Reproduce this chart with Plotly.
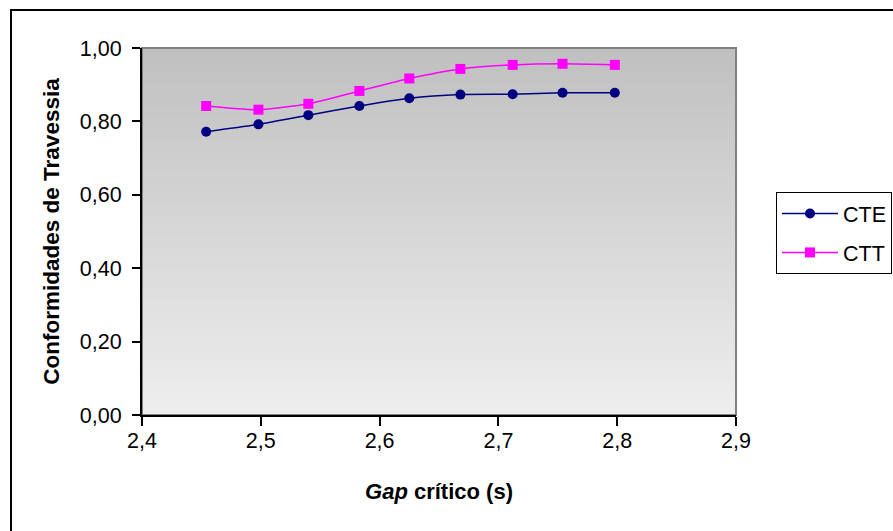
import plotly.graph_objects as go

# Critical gap (s) and crossing conformity rates
gap_cte = [2.454, 2.498, 2.540, 2.583, 2.625, 2.668, 2.712, 2.754, 2.798]
cte = [0.772, 0.792, 0.817, 0.842, 0.863, 0.873, 0.874, 0.878, 0.878]
gap_ctt = [2.454, 2.498, 2.540, 2.583, 2.625, 2.668, 2.712, 2.754, 2.798]
ctt = [0.842, 0.832, 0.848, 0.883, 0.917, 0.943, 0.954, 0.957, 0.954]

x_ticks = [2.4, 2.5, 2.6, 2.7, 2.8, 2.9]
y_ticks = [0.0, 0.2, 0.4, 0.6, 0.8, 1.0]

FONT = "Liberation Sans, Arial, sans-serif"
FS = 21.5
W, H = 893, 531

fig = go.Figure()
fig.add_trace(go.Scatter(
    x=gap_cte, y=cte, name="CTE", mode="lines+markers", legendgroup="cte",
    line=dict(color="#000080", width=1.5, shape="spline", smoothing=0.6),
    marker=dict(symbol="circle", size=10, color="#000080"),
))
fig.add_trace(go.Scatter(
    x=gap_ctt, y=ctt, name="CTT", mode="lines+markers", legendgroup="ctt",
    line=dict(color="#ff00ff", width=1.5, shape="spline", smoothing=0.6),
    marker=dict(symbol="square", size=10, color="#ff00ff"),
))

# vertical grey gradient behind the plot area (bands overlap to hide seams)
shapes = []
n = 80
top = (0xc0, 0xc0, 0xc0)
bot = (0xee, 0xee, 0xee)
for i in range(n):
    t = i / (n - 1)
    c = tuple(round(top[k] + (bot[k] - top[k]) * t) for k in range(3))
    shapes.append(dict(
        type="rect", xref="x domain", yref="y domain",
        x0=0, x1=1, y0=max(0, 1 - (i + 2) / n), y1=1 - i / n,
        fillcolor="rgb(%d,%d,%d)" % c, line=dict(width=0), layer="below",
    ))
# plot area frame
shapes.append(dict(type="rect", xref="x domain", yref="y domain",
                   x0=0, x1=1, y0=0, y1=1,
                   line=dict(color="#808080", width=2), layer="below"))
# outer chart frame (top and left edges visible)
px0, px1, py0, py1 = 142, 736, 48, 415
def xp(px):
    return (px - px0) / (px1 - px0)
def yp(py):
    return (py1 - py) / (py1 - py0)
shapes.append(dict(type="rect", xref="paper", yref="paper",
                   x0=xp(11), x1=xp(905), y0=yp(545), y1=yp(10),
                   line=dict(color="black", width=2), fillcolor="rgba(0,0,0,0)"))

fig.update_layout(
    width=W, height=H,
    margin=dict(l=px0, r=W - px1, t=py0, b=H - py1),
    paper_bgcolor="white", plot_bgcolor="rgba(0,0,0,0)",
    separators=",.",
    font=dict(family=FONT, size=FS, color="black"),
    shapes=shapes,
    showlegend=True,
    legend=dict(
        xref="container", yref="container",
        x=776 / W, y=1 - 192 / H, xanchor="left", yanchor="top",
        bordercolor="black", borderwidth=1, bgcolor="white",
        font=dict(family=FONT, size=FS, color="black"),
        tracegroupgap=8, itemwidth=56,
    ),
    xaxis=dict(
        range=[2.4, 2.9], tickvals=x_ticks, tickformat=".1f",
        showgrid=False, zeroline=False,
        showline=True, linecolor="black", linewidth=2,
        ticks="outside", ticklen=9, tickwidth=1.5, tickcolor="black",
        ticklabelstandoff=-4,
        tickfont=dict(family=FONT, size=FS),
        title=dict(text="<b><i>Gap</i> crítico (s)</b>",
                   font=dict(family=FONT, size=22), standoff=32),
    ),
    yaxis=dict(
        range=[0, 1], tickvals=y_ticks, tickformat=".2f",
        showgrid=False, zeroline=False,
        showline=True, linecolor="black", linewidth=2,
        ticks="outside", ticklen=8, tickwidth=1.5, tickcolor="black",
        ticklabelstandoff=6,
        tickfont=dict(family=FONT, size=FS),
        title=dict(text="<b>Conformidades de Travessia</b>",
                   font=dict(family=FONT, size=22.5), standoff=14),
    ),
)

fig.write_html("out.html")
